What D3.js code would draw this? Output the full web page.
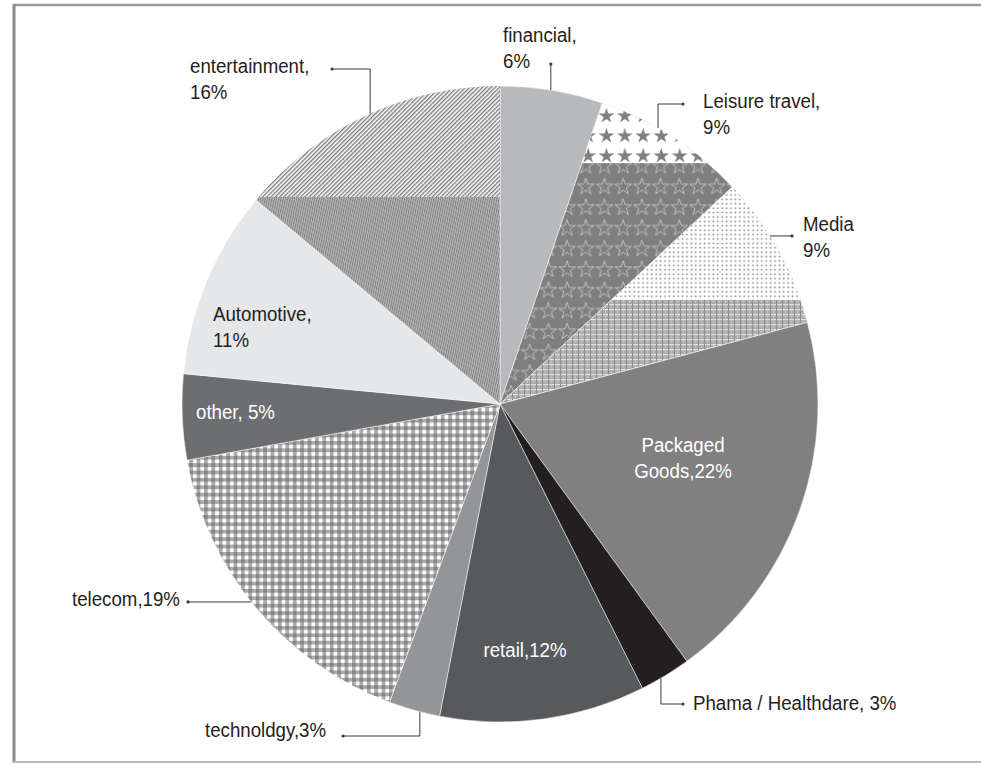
<!DOCTYPE html>
<html><head><meta charset="utf-8">
<script src="https://cdn.jsdelivr.net/npm/d3@7/dist/d3.min.js"></script>
<style>html,body{margin:0;padding:0;background:#fff;}svg{display:block;}</style>
</head><body>
<script>
// ---- data ----
const categories = ["financial","Leisure travel","Media","Packaged Goods","Phama / Healthdare","retail","technoldgy","telecom","other","Automotive","entertainment"];
const values = [6, 9, 9, 22, 3, 12, 3, 19, 5, 11, 16];
const labelLines = [
  ["financial,","6%"],["Leisure travel,","9%"],["Media","9%"],["Packaged","Goods,22%"],
  ["Phama / Healthdare, 3%"],["retail,12%"],["technoldgy,3%"],["telecom,19%"],
  ["other, 5%"],["Automotive,","11%"],["entertainment,","16%"]
];

// ---- layout / style ----
const W = 981, H = 764, cx = 500, cy = 404, R = 318;
const svg = d3.select("body").append("svg").attr("width", W).attr("height", H);
const defs = svg.append("defs");

// frame
svg.append("line").attr("x1",13).attr("x2",W).attr("y1",5).attr("y2",5).attr("stroke","#9c9c9c").attr("stroke-width",2.5);
svg.append("line").attr("x1",14).attr("x2",14).attr("y1",4).attr("y2",763).attr("stroke","#8a8a8a").attr("stroke-width",3);
svg.append("line").attr("x1",13).attr("x2",W).attr("y1",762).attr("y2",762).attr("stroke","#b8b8b8").attr("stroke-width",2);

// patterns
const star = d3.symbol().type(d3.symbolStar);
function pat(id, w, h, bg, attrs) {
  const p = defs.append("pattern").attr("id", id).attr("patternUnits","userSpaceOnUse")
    .attr("width", w).attr("height", h);
  if (attrs) for (const k in attrs) p.attr(k, attrs[k]);
  if (bg) p.append("rect").attr("width", w).attr("height", h).attr("fill", bg);
  return p;
}
// leisure top: filled stars on white
let p = pat("starFill", 18.3, 20, "#fff", {x: 6, y: 2});
p.append("path").attr("d", star.size(75)()).attr("transform","translate(9,10)").attr("fill","#808080");
// leisure bottom: outline stars on gray
p = pat("starOutline", 18.7, 20.7, "#7f7f7f", {x: 2, y: 0});
p.append("path").attr("d", star.size(85)()).attr("transform","translate(9,10.5)").attr("fill","none").attr("stroke","#c4c4c4").attr("stroke-width",0.9);
// media top: dots
p = pat("dots", 4.4, 4.4, "#fff");
p.append("circle").attr("cx",2.2).attr("cy",2.2).attr("r",0.95).attr("fill","#8a8a8a");
// media bottom: mesh
p = pat("mesh", 6, 5, "#ababab");
p.append("rect").attr("x",0).attr("y",0).attr("width",6).attr("height",1.2).attr("fill","#e2e2e2");
p.append("rect").attr("x",0).attr("y",0).attr("width",1).attr("height",5).attr("fill","#8e8e8e");
p.append("circle").attr("cx",3.5).attr("cy",3).attr("r",0.8).attr("fill","#cfcfcf");
// telecom: gingham
p = pat("gingham", 7.4, 7.4, "#fff");
p.append("rect").attr("x",0).attr("y",0).attr("width",3.8).attr("height",7.4).attr("fill","#acacac");
p.append("rect").attr("x",0).attr("y",0).attr("width",7.4).attr("height",3.8).attr("fill","#acacac");
p.append("rect").attr("x",0).attr("y",0).attr("width",3.8).attr("height",3.8).attr("fill","#858585");
// entertainment top: diagonal stripes
p = pat("diag", 3, 3, "#fff", {patternTransform: "rotate(45)"});
p.append("rect").attr("x",0).attr("y",0).attr("width",1.4).attr("height",3).attr("fill","#7c7c7c");
// entertainment bottom: fine dense stripes
p = pat("fine", 2.2, 2.2, "#b4b4b4", {patternTransform: "rotate(12)"});
p.append("rect").attr("x",0).attr("y",0).attr("width",1).attr("height",2.2).attr("fill","#858585");

// slice fills: [base, top overlay, split y]
const fills = [
  {base:"#b8b9bc"},
  {base:"url(#starOutline)", top:"url(#starFill)", split:163},
  {base:"url(#mesh)", top:"url(#dots)", split:300},
  {base:"#808080"},
  {base:"#231f20"},
  {base:"#58595b"},
  {base:"#939598"},
  {base:"url(#gingham)"},
  {base:"#6d6e71"},
  {base:"#e6e7e8"},
  {base:"url(#fine)", top:"url(#diag)", split:197}
];

const pie = d3.pie().sort(null).value(d => d);
const arcs = pie(values);
const arc = d3.arc().innerRadius(0).outerRadius(R);
const g = svg.append("g").attr("transform", `translate(${cx},${cy})`);

arcs.forEach((a, i) => {
  const f = fills[i];
  g.append("path").attr("d", arc(a)).attr("fill", f.base).attr("stroke","#fff").attr("stroke-width",0.5);
  if (f.top) {
    const cid = "clip" + i;
    defs.append("clipPath").attr("id", cid).append("rect")
      .attr("x", -cx).attr("y", -cy).attr("width", W).attr("height", f.split);
    g.append("path").attr("d", arc(a)).attr("fill", f.top).attr("clip-path", `url(#${cid})`);
  }
});

// labels
const FS = 21, SX = 0.89, LH = 26.5;
const labelCfg = [
  {x:503, y:41.5, fill:"#231f20", lead:{a:9.2, v:64}},
  {x:703, y:108, fill:"#231f20", lead:{a:29.8, v:104, h:683}},
  {x:803, y:230.5, fill:"#231f20", lead:{a:58.1, h:792}},
  {x:683, y:452, fill:"#fff", anchor:"middle"},
  {x:693, y:710, fill:"#231f20", lead:{a:149.6, v:704, h:683}},
  {x:525, y:657, fill:"#fff", anchor:"middle"},
  {x:205, y:737, fill:"#231f20", lead:{a:194.6, v:736, h:343}},
  {x:72, y:606, fill:"#231f20", lead:{a:231.5, h:188}},
  {x:196, y:419, fill:"#fff"},
  {x:213, y:321, fill:"#231f20"},
  {x:190, y:73, fill:"#231f20", lead:{a:335.9, v:69, h:332}}
];

const lab = svg.append("g").attr("font-family","'Liberation Sans', Arial, sans-serif").attr("font-size", FS);
labelCfg.forEach((c, i) => {
  const t = lab.append("g").attr("transform", `translate(${c.x},${c.y}) scale(${SX},1)`)
    .append("text").attr("fill", c.fill).attr("text-anchor", c.anchor || "start");
  labelLines[i].forEach((s, j) => t.append("tspan").attr("x", 0).attr("y", j * LH).text(s));
  if (c.lead) {
    const ang = c.lead.a * Math.PI / 180;
    let x = cx + R * Math.sin(ang), y = cy - R * Math.cos(ang);
    const pts = [[x, y]];
    if (c.lead.v !== undefined) { y = c.lead.v; pts.push([x, y]); }
    if (c.lead.h !== undefined) { x = c.lead.h; pts.push([x, y]); }
    svg.append("path").attr("d", d3.line()(pts)).attr("fill","none").attr("stroke","#3a3a3a").attr("stroke-width",1);
    svg.append("circle").attr("cx", x).attr("cy", y).attr("r", 1.6).attr("fill","#3a3a3a");
  }
});
</script>
</body></html>
